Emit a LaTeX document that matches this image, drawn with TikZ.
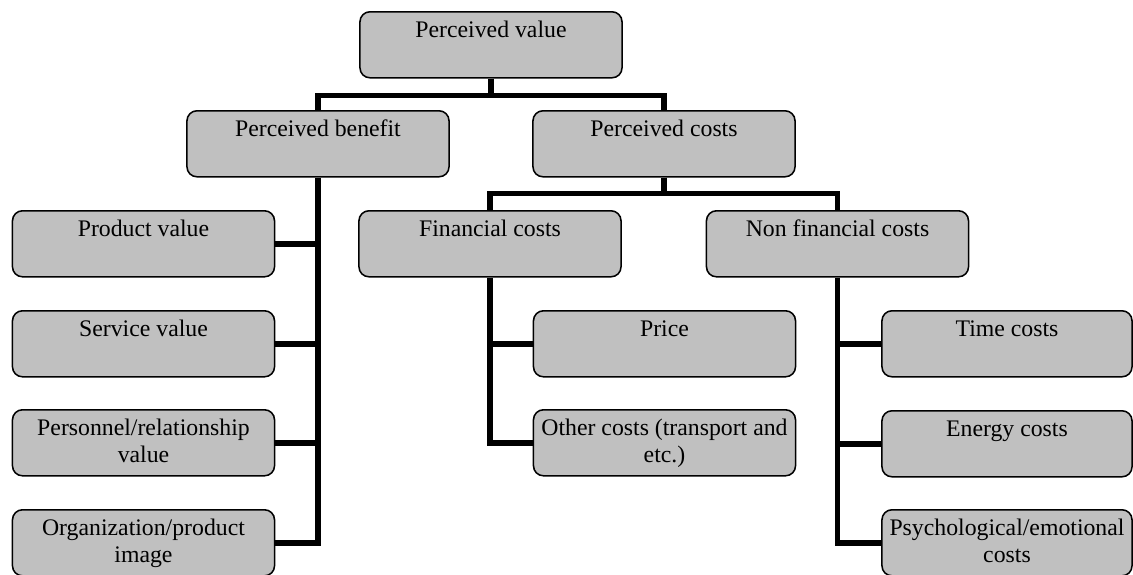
\documentclass[tikz,border=0pt]{standalone}
\usepackage{fontspec}
\setmainfont{Liberation Serif}

\definecolor{boxgray}{RGB}{192,192,192}

\tikzset{
  box/.style={draw, line width=1.1pt, rounded corners=0.25cm, fill=boxgray,
    anchor=north, minimum width=6.55cm, inner xsep=0pt, inner ysep=0pt,
    text height=0.65cm, text depth=1.0cm, align=center,
    font=\fontsize{16.9}{19}\selectfont},
  twoline/.style={text height=1.317cm, text depth=0.333cm},
  narrowbox/.style={minimum width=6.25cm}
}

\begin{document}
\begin{tikzpicture}[x=0.025cm,y=-0.025cm]
      \useasboundingbox (0,0) rectangle (1133,574);

      \begin{scope}[every node/.style={box}]
        \node (pv)     at (491,11)    {Perceived value};
        \node (pb)     at (318,110)   {Perceived benefit};
        \node (pc)     at (664,110)   {Perceived costs};
        \node (prod)   at (143.5,210) {Product value};
        \node (serv)   at (143.5,310) {Service value};
        \node[twoline] (pers)  at (143.5,409) {Personnel/relationship\\value};
        \node[twoline] (org)   at (143.5,509) {Organization/product\\image};
        \node (fc)     at (490,210)   {Financial costs};
        \node (nfc)    at (837.5,210) {Non financial costs};
        \node (price)  at (664.5,310) {Price};
        \node[twoline] (other) at (664.5,409) {Other costs (transport and\\etc.)};
        \node[narrowbox] (time)   at (1007,310) {Time costs};
        \node[narrowbox] (energy) at (1007,410) {Energy costs};
        \node[narrowbox,twoline] (psych) at (1007,509) {Psychological/emotional\\costs};
      \end{scope}


      \begin{scope}[every path/.style={draw,line width=4pt}]
        \path (pv.south) -- ++(0,17) -| (pb.north);
        \path (pv.south) -- ++(0,17) -| (pc.north);
        \path (pb.south) |- (org.east);
        \foreach \n in {prod,serv,pers}
          \path (pb.south |- \n.east) -- (\n.east);
        \path (pc.south) -- ++(0,16) -| (fc.north);
        \path (pc.south) -- ++(0,16) -| (nfc.north);
        \path (fc.south) |- (other.west);
        \path (fc.south |- price.west) -- (price.west);
        \path (nfc.south) |- (psych.west);
        \foreach \n in {time,energy}
          \path (nfc.south |- \n.west) -- (\n.west);
      \end{scope}

    \end{tikzpicture}
\end{document}
